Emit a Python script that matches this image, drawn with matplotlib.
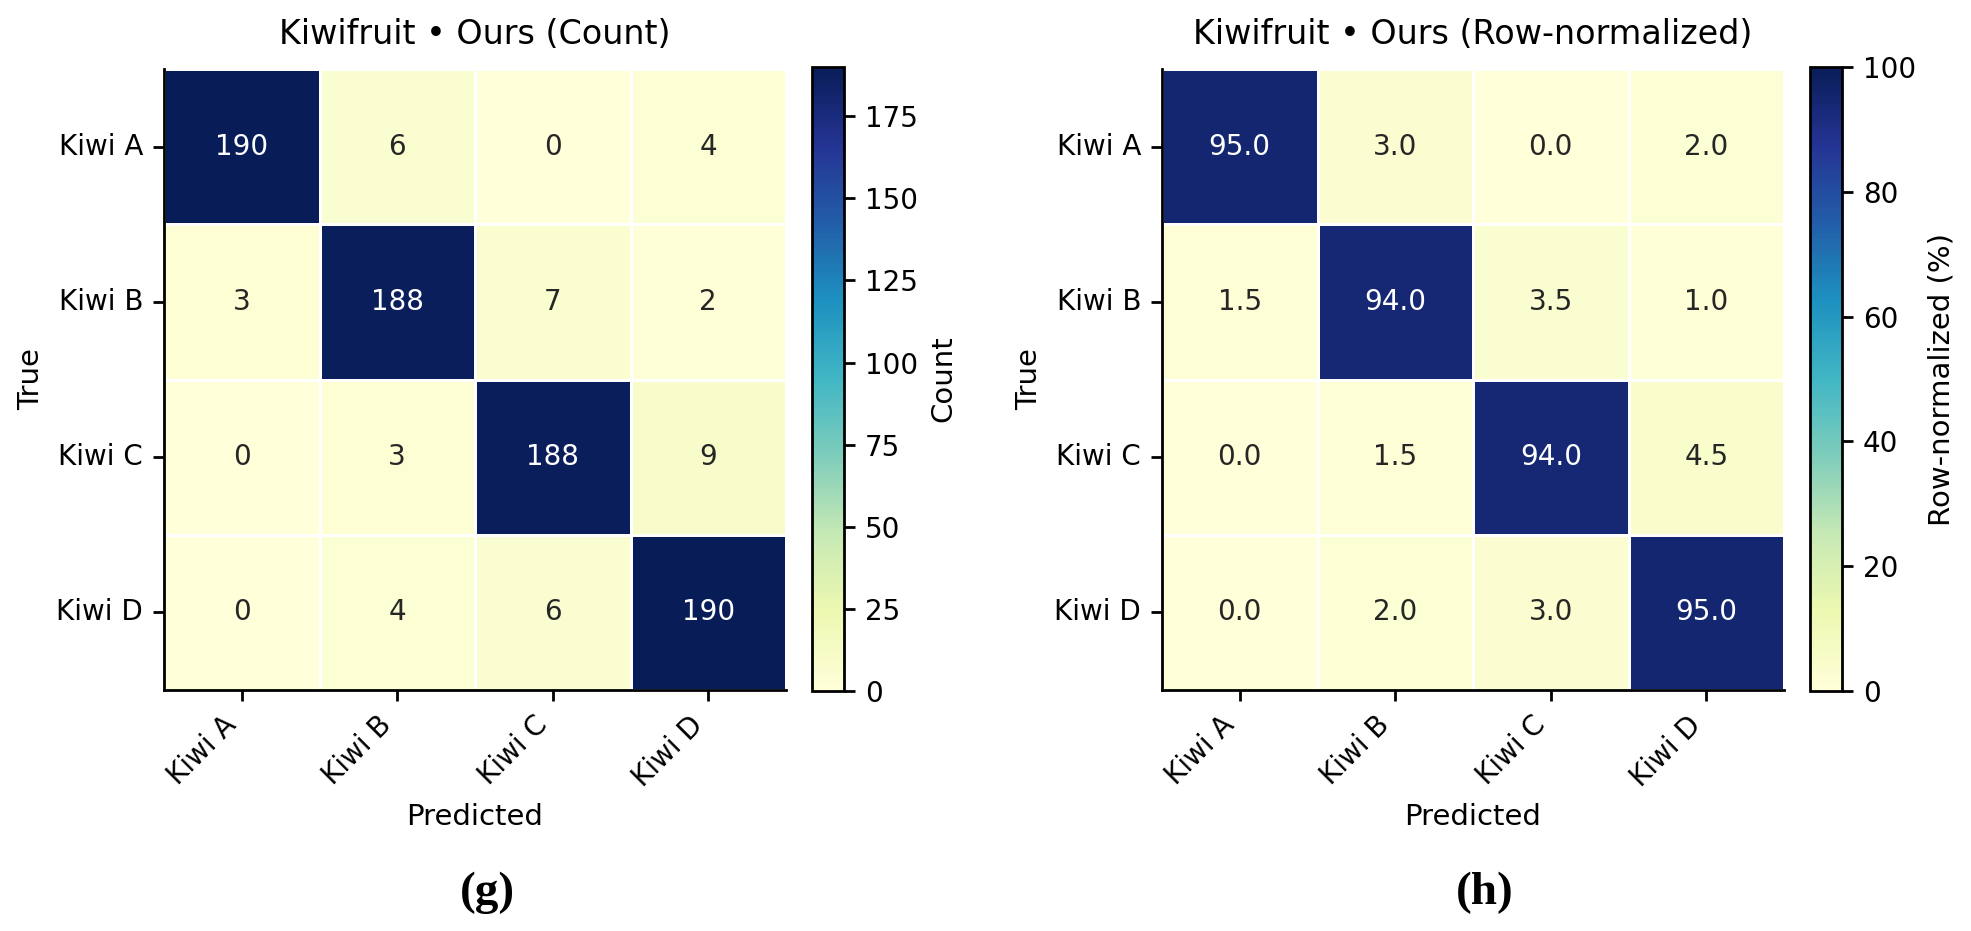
import matplotlib
matplotlib.use("Agg")
import matplotlib.pyplot as plt
import numpy as np
import seaborn as sns

# данные матриц ошибок
classes = ["Kiwi A", "Kiwi B", "Kiwi C", "Kiwi D"]
counts = [[190, 6, 0, 4],
          [3, 188, 7, 2],
          [0, 3, 188, 9],
          [0, 4, 6, 190]]
row_pct = [[95.0, 3.0, 0.0, 2.0],
           [1.5, 94.0, 3.5, 1.0],
           [0.0, 1.5, 94.0, 4.5],
           [0.0, 2.0, 3.0, 95.0]]
titles = ["Kiwifruit \u2022 Ours (Count)", "Kiwifruit \u2022 Ours (Row-normalized)"]
cbar_labels = ["Count", "Row-normalized (%)"]
captions = ["(g)", "(h)"]

W, H = 1971, 931
fig = plt.figure(figsize=(W / 200, H / 200), dpi=200)


def box(x0, y0, x1, y1):
    # пиксели -> доли фигуры
    return [x0 / W, 1 - y1 / H, (x1 - x0) / W, (y1 - y0) / H]


panels = [
    dict(ax=box(164, 69, 786, 690), cax=box(812, 67, 844, 691),
         data=counts, fmt="d", vmax=190, ticks=np.arange(0, 176, 25), cap_x=487),
    dict(ax=box(1162, 69, 1784, 690), cax=box(1810, 67, 1842, 691),
         data=row_pct, fmt=".1f", vmax=100, ticks=np.arange(0, 101, 20), cap_x=1485),
]

for i, p in enumerate(panels):
    ax = fig.add_axes(p["ax"])
    cax = fig.add_axes(p["cax"])
    sns.heatmap(np.array(p["data"]), ax=ax, cbar_ax=cax, cmap="YlGnBu",
                vmin=0, vmax=p["vmax"], annot=True, fmt=p["fmt"],
                annot_kws={"fontsize": 10}, linewidths=1, linecolor="white",
                xticklabels=classes, yticklabels=classes,
                cbar_kws={"ticks": p["ticks"]})
    ax.set_title(titles[i], fontsize=12, pad=9)
    ax.set_xlabel("Predicted", fontsize=10.5)
    ax.set_ylabel("True", fontsize=10.5)
    ax.set_xticklabels(classes, rotation=45, ha="right", fontsize=10)
    ax.set_yticklabels(classes, rotation=0, fontsize=10)
    ax.tick_params(length=4, width=1)
    for side in ["left", "bottom"]:
        ax.spines[side].set_visible(True)
        ax.spines[side].set_linewidth(1.0)
        ax.spines[side].set_color("black")
    # колорбар
    cb = ax.collections[0].colorbar
    cb.outline.set_visible(True)
    cb.outline.set_linewidth(1.0)
    cb.outline.set_edgecolor("black")
    cb.set_label(cbar_labels[i], fontsize=10.5)
    cax.tick_params(labelsize=10, length=4, width=1)
    # подпись панели
    fig.text(p["cap_x"] / W, 1 - 893 / H, captions[i], ha="center", va="center",
             fontsize=17, fontweight="bold", family="Liberation Serif")

fig.savefig("out.png", dpi=200)
